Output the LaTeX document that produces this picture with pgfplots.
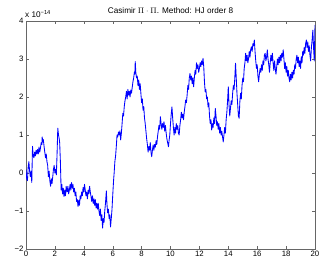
\documentclass[border=0pt]{standalone}
\usepackage{fontspec}
\setmainfont{Liberation Sans}
\usepackage{pgfplots}
\usetikzlibrary{calc}
\pgfplotsset{compat=1.18}
\begin{document}
\begin{tikzpicture}
\begin{axis}[
  scale only axis, width=289pt, height=228pt,
  xmin=0, xmax=20, ymin=-2, ymax=4,
  xtick={0,2,...,20}, ytick={-2,-1,0,1,2,3,4},
  yticklabels={−2,−1,0,1,2,3,4},
  tick align=inside, major tick length=3pt,
  axis line style={gray!80!black, line width=0.5pt},
  tick style={gray!80!black, line width=0.4pt},
  ticklabel style={font=\fontsize{7.8}{8}\selectfont},
  /pgf/number format/assume math mode=true,
  xticklabel style={yshift=1pt},
  yticklabel style={xshift=1pt},
  clip=true,
]
\coordinate (bl) at (rel axis cs:0,0);
\coordinate (tr) at (rel axis cs:1,1);
\addplot[blue, line width=0.85pt, line join=round] coordinates {
(0,0.1)(0.05,-0.15)(0.1,-0.2)(0.15,0.15)(0.2,0.3)(0.25,0.05)(0.3,-0.1)(0.35,0.05)(0.4,-0.25)(0.45,0.7)
(0.5,0.45)(0.55,0.4)(0.6,0.55)(0.65,0.45)(0.7,0.6)(0.75,0.5)(0.8,0.62)(0.85,0.5)(0.9,0.68)(0.95,0.55)
(1.0,0.65)(1.05,0.8)(1.1,0.75)(1.12,0.95)(1.16,0.82)(1.2,0.88)(1.25,0.7)(1.3,0.55)(1.35,0.4)(1.4,0.5)
(1.45,0.3)(1.5,0.2)(1.55,-0.1)(1.6,0.05)(1.65,-0.2)(1.7,-0.35)(1.75,-0.15)(1.8,-0.28)(1.85,-0.1)(1.9,0.1)
(1.95,0.2)(2.0,0.0)(2.05,0.1)(2.1,-0.05)(2.15,0.5)(2.2,1.18)(2.25,1.0)(2.3,0.9)(2.33,0.8)(2.38,0.3)
(2.43,-0.45)(2.48,-0.3)(2.53,-0.55)(2.58,-0.4)(2.63,-0.62)(2.68,-0.45)(2.73,-0.6)(2.78,-0.35)(2.84,-0.5)(2.9,-0.35)
(2.95,-0.55)(3.0,-0.45)(3.05,-0.3)(3.1,-0.45)(3.15,-0.25)(3.2,-0.4)(3.25,-0.3)(3.3,-0.5)(3.35,-0.4)(3.4,-0.6)
(3.45,-0.5)(3.5,-0.75)(3.55,-0.7)(3.6,-0.88)(3.65,-0.72)(3.7,-0.85)(3.75,-0.6)(3.8,-0.68)(3.85,-0.5)(3.9,-0.6)
(3.95,-0.38)(4.0,-0.5)(4.05,-0.3)(4.1,-0.45)(4.15,-0.6)(4.2,-0.5)(4.25,-0.68)(4.3,-0.45)(4.35,-0.55)(4.4,-0.35)
(4.45,-0.5)(4.5,-0.62)(4.55,-0.75)(4.6,-0.6)(4.65,-0.8)(4.7,-0.68)(4.75,-0.85)(4.8,-0.7)(4.85,-0.92)(4.9,-0.8)
(4.95,-0.95)(5.0,-0.8)(5.05,-1.0)(5.1,-1.12)(5.15,-0.95)(5.2,-1.25)(5.25,-1.1)(5.3,-1.45)(5.35,-1.2)(5.4,-1.3)
(5.45,-1.0)(5.5,-0.8)(5.56,-0.47)(5.6,-0.8)(5.65,-1.05)(5.7,-0.95)(5.75,-1.2)(5.8,-1.1)(5.85,-1.42)(5.9,-1.2)
(5.95,-0.97)(6.0,-0.6)(6.06,-0.2)(6.1,0.0)(6.15,0.3)(6.2,0.45)(6.25,0.7)(6.3,1.0)(6.35,0.95)(6.4,1.08)
(6.45,1.0)(6.5,1.11)(6.55,0.87)(6.6,1.05)(6.65,1.3)(6.7,1.57)(6.75,1.5)(6.8,1.75)(6.85,1.9)(6.9,2.0)
(6.95,2.15)(7.0,1.95)(7.05,2.2)(7.1,2.05)(7.15,2.15)(7.2,2.0)(7.25,2.18)(7.3,2.1)(7.35,2.25)(7.4,2.4)
(7.45,2.5)(7.5,2.65)(7.53,2.6)(7.56,2.93)(7.6,2.65)(7.65,2.5)(7.7,2.55)(7.75,2.3)(7.8,2.45)(7.85,2.2)
(7.9,2.35)(7.95,2.1)(8.0,1.85)(8.05,1.95)(8.1,1.65)(8.15,1.75)(8.2,1.45)(8.25,1.3)(8.3,1.1)(8.35,0.9)
(8.4,0.75)(8.45,0.55)(8.5,0.7)(8.55,0.6)(8.6,0.8)(8.65,0.55)(8.7,0.43)(8.75,0.6)(8.8,0.74)(8.85,0.6)
(8.9,0.75)(8.95,0.68)(9.0,0.85)(9.05,0.75)(9.1,0.95)(9.15,1.1)(9.2,1.25)(9.25,1.15)(9.3,1.48)(9.35,1.3)
(9.4,1.15)(9.45,1.3)(9.5,1.2)(9.55,1.35)(9.6,1.1)(9.65,1.25)(9.7,1.05)(9.75,0.9)(9.8,0.8)(9.86,0.69)
(9.9,0.85)(9.95,1.0)(10.0,1.3)(10.05,1.55)(10.1,1.74)(10.15,1.45)(10.2,1.2)(10.25,1.0)(10.3,1.2)(10.35,1.05)
(10.4,1.3)(10.45,1.15)(10.5,1.25)(10.55,1.05)(10.6,1.0)(10.65,1.25)(10.7,1.4)(10.75,1.6)(10.8,1.45)(10.85,1.55)
(10.9,1.4)(10.95,1.6)(11.0,1.75)(11.05,1.92)(11.1,1.85)(11.15,2.05)(11.2,2.3)(11.25,2.2)(11.3,2.5)(11.35,2.62)
(11.4,2.45)(11.45,2.55)(11.5,2.35)(11.55,2.5)(11.6,2.27)(11.65,2.5)(11.7,2.7)(11.75,2.6)(11.8,2.9)(11.85,2.75)
(11.9,2.85)(11.95,2.65)(12.0,2.75)(12.05,2.9)(12.1,2.8)(12.15,2.95)(12.2,2.85)(12.25,3.02)(12.3,2.8)(12.35,2.4)
(12.4,2.14)(12.45,2.2)(12.5,1.95)(12.55,2.0)(12.6,1.74)(12.65,1.85)(12.7,1.5)(12.75,1.3)(12.8,1.4)(12.85,1.13)
(12.9,1.3)(12.95,1.2)(13.0,1.45)(13.05,1.3)(13.1,1.7)(13.15,1.5)(13.2,1.25)(13.25,1.35)(13.3,1.15)(13.35,1.3)
(13.4,1.05)(13.45,1.2)(13.5,1.0)(13.55,1.1)(13.6,0.95)(13.65,0.82)(13.7,1.0)(13.75,1.2)(13.8,1.05)(13.85,1.4)
(13.9,1.6)(13.95,1.9)(14.0,2.27)(14.05,1.8)(14.1,1.5)(14.15,1.7)(14.2,1.9)(14.25,1.8)(14.3,2.1)(14.35,2.3)
(14.4,2.2)(14.45,2.5)(14.5,2.89)(14.55,2.5)(14.6,2.1)(14.65,1.8)(14.7,1.5)(14.75,1.44)(14.8,1.88)(14.85,2.1)
(14.9,1.95)(14.95,2.3)(15.0,2.5)(15.05,2.4)(15.1,2.75)(15.15,2.9)(15.2,3.15)(15.25,2.95)(15.3,3.1)(15.35,2.9)
(15.4,3.0)(15.45,3.2)(15.5,3.05)(15.55,3.25)(15.6,3.32)(15.65,3.2)(15.7,3.4)(15.75,3.35)(15.8,3.5)(15.85,3.2)
(15.9,2.95)(15.95,2.75)(16.0,2.85)(16.05,2.55)(16.1,2.4)(16.15,2.6)(16.2,2.75)(16.25,2.65)(16.3,2.85)(16.35,2.7)
(16.4,2.95)(16.45,2.85)(16.5,3.1)(16.55,3.15)(16.6,2.95)(16.65,3.05)(16.7,3.24)(16.75,3.0)(16.8,2.85)(16.85,2.65)
(16.9,2.9)(16.95,3.1)(17.0,2.95)(17.05,3.15)(17.1,2.9)(17.15,2.7)(17.2,2.95)(17.25,2.75)(17.3,2.6)(17.35,2.8)
(17.4,3.0)(17.45,2.85)(17.5,3.05)(17.55,2.9)(17.6,3.1)(17.65,2.95)(17.7,3.15)(17.75,3.05)(17.8,3.24)(17.85,3.0)
(17.9,2.75)(17.95,2.9)(18.0,2.65)(18.05,2.8)(18.1,2.55)(18.15,2.7)(18.2,2.5)(18.25,2.4)(18.3,2.6)(18.35,2.45)
(18.4,2.65)(18.45,2.5)(18.5,2.7)(18.55,2.6)(18.6,2.85)(18.65,2.75)(18.7,3.0)(18.75,3.1)(18.8,2.9)(18.85,3.05)
(18.9,2.8)(18.95,2.95)(19.0,2.75)(19.05,3.06)(19.1,2.9)(19.15,3.2)(19.2,3.1)(19.25,3.3)(19.3,3.15)(19.35,3.4)
(19.4,3.5)(19.45,3.3)(19.5,3.45)(19.55,3.2)(19.6,3.35)(19.65,3.1)(19.7,2.95)(19.75,3.3)(19.8,3.5)(19.85,3.76)
(19.9,3.3)(19.95,2.95)(20.0,3.9)
};
\end{axis}
\node[anchor=base, font=\fontsize{8.2}{9}\selectfont, inner sep=0pt] at ($(bl)!0.5!(tr|-bl)+(0,235.5pt)$) {Casimir $\Pi\cdot\Pi$. Method: HJ order 8};
\node[anchor=base west, font=\fontsize{8.2}{9}\selectfont, inner sep=0pt] at ($(bl|-tr)+(-1pt,4pt)$) {x 10\textsuperscript{−14}};
\pgfresetboundingbox
\path ($(bl)+(-26pt,-21pt)$) rectangle ($(tr)+(12pt,21pt)$);
\end{tikzpicture}
\end{document}
